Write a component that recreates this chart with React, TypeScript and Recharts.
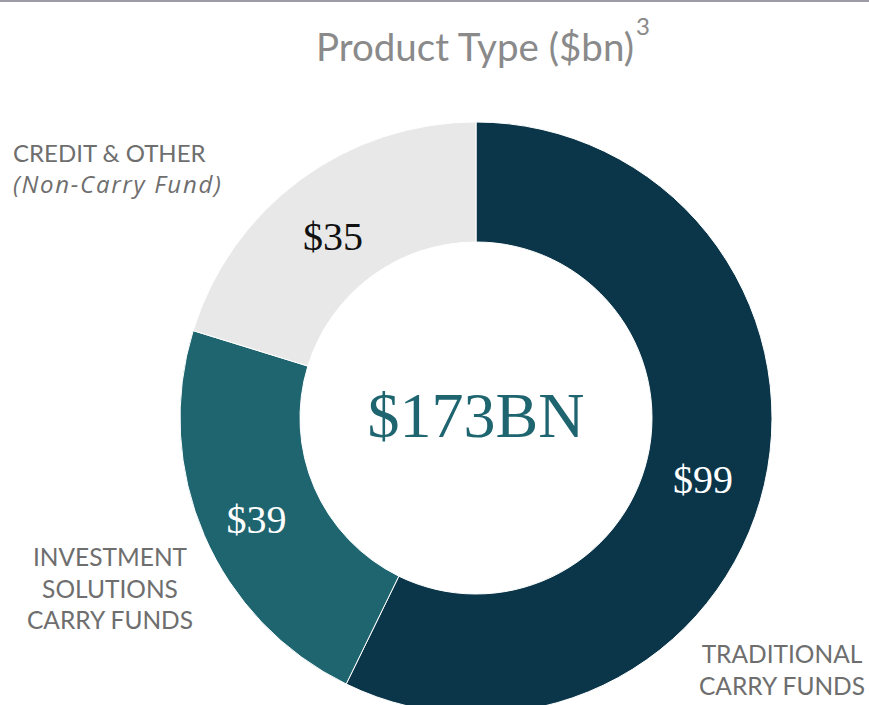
import { PieChart, Pie, Cell } from "recharts";

const categories = ["Traditional Carry Funds", "Investment Solutions Carry Funds", "Credit & Other"];
const values = [99, 39, 35];
const valueLabels = ["$99", "$39", "$35"];
const totalLabel = "$173BN";
const colors = ["#0b3649", "#1e6570", "#e8e8e8"];
const labelColors = ["#ffffff", "#ffffff", "#111111"];

const data = categories.map((name, i) => ({ name, value: values[i] }));

const RAD = Math.PI / 180;

const renderValue = ({ cx, cy, midAngle, innerRadius, outerRadius, index }: any) => {
  const r = (innerRadius + outerRadius) / 2;
  const x = cx + r * Math.cos(-midAngle * RAD);
  const y = cy + r * Math.sin(-midAngle * RAD);
  return (
    <text
      x={x - 3}
      y={y + 8}
      fill={labelColors[index]}
      textAnchor="middle"
      dominantBaseline="central"
      fontFamily="'Liberation Serif', 'DejaVu Serif', serif"
      fontSize={40}
    >
      {valueLabels[index]}
    </text>
  );
};

const sans = "Lato, 'Open Sans', sans-serif";
const grey = "#6e6e6e";

export default function App() {
  return (
    <div style={{ position: "absolute", left: 0, top: 0, width: 869, height: 705, background: "#fff", overflow: "hidden" }}>
      <div style={{ position: "absolute", left: 0, top: 0, width: 869, height: 2, background: "#9c9ca6" }} />
      <PieChart width={869} height={705} margin={{ top: 0, right: 0, bottom: 0, left: 0 }}>
        <Pie
          data={data}
          dataKey="value"
          cx={476}
          cy={418}
          innerRadius={176}
          outerRadius={296}
          startAngle={90}
          endAngle={-270}
          stroke="#ffffff"
          strokeWidth={1}
          label={renderValue}
          labelLine={false}
          isAnimationActive={false}
        >
          {data.map((d, i) => (
            <Cell key={d.name} fill={colors[i]} />
          ))}
        </Pie>
      </PieChart>
      <div style={{ position: "absolute", left: 316, top: 21, whiteSpace: "nowrap", fontFamily: sans, fontSize: 38.5, color: "#8a8a8a", lineHeight: "50px" }}>
        Product Type ($bn)
      </div>
      <div style={{ position: "absolute", left: 636, top: 12, fontFamily: sans, fontSize: 24, color: "#8a8a8a", lineHeight: "28px" }}>
        3
      </div>
      <div style={{ position: "absolute", left: 276, top: 376, width: 400, textAlign: "center", fontFamily: "'Liberation Serif', serif", fontSize: 64, color: "#1e6570", lineHeight: "80px" }}>
        {totalLabel}
      </div>
      <div style={{ position: "absolute", left: 13, top: 137, fontFamily: sans, fontSize: 24, color: grey, lineHeight: "31px" }}>
        <div>CREDIT &amp; OTHER</div>
        <div style={{ fontStyle: "italic", fontFamily: "'Open Sans', sans-serif", fontSize: 24, letterSpacing: 1.7 }}>(Non-Carry Fund)</div>
      </div>
      <div style={{ position: "absolute", left: 10, top: 541, width: 200, textAlign: "center", fontFamily: sans, fontSize: 24.5, color: grey, lineHeight: "31.5px" }}>
        <div>INVESTMENT</div>
        <div>SOLUTIONS</div>
        <div>CARRY FUNDS</div>
      </div>
      <div style={{ position: "absolute", left: 682, top: 638, width: 200, textAlign: "center", fontFamily: sans, fontSize: 24.5, color: grey, lineHeight: "31.5px" }}>
        <div>TRADITIONAL</div>
        <div>CARRY FUNDS</div>
      </div>
    </div>
  );
}
